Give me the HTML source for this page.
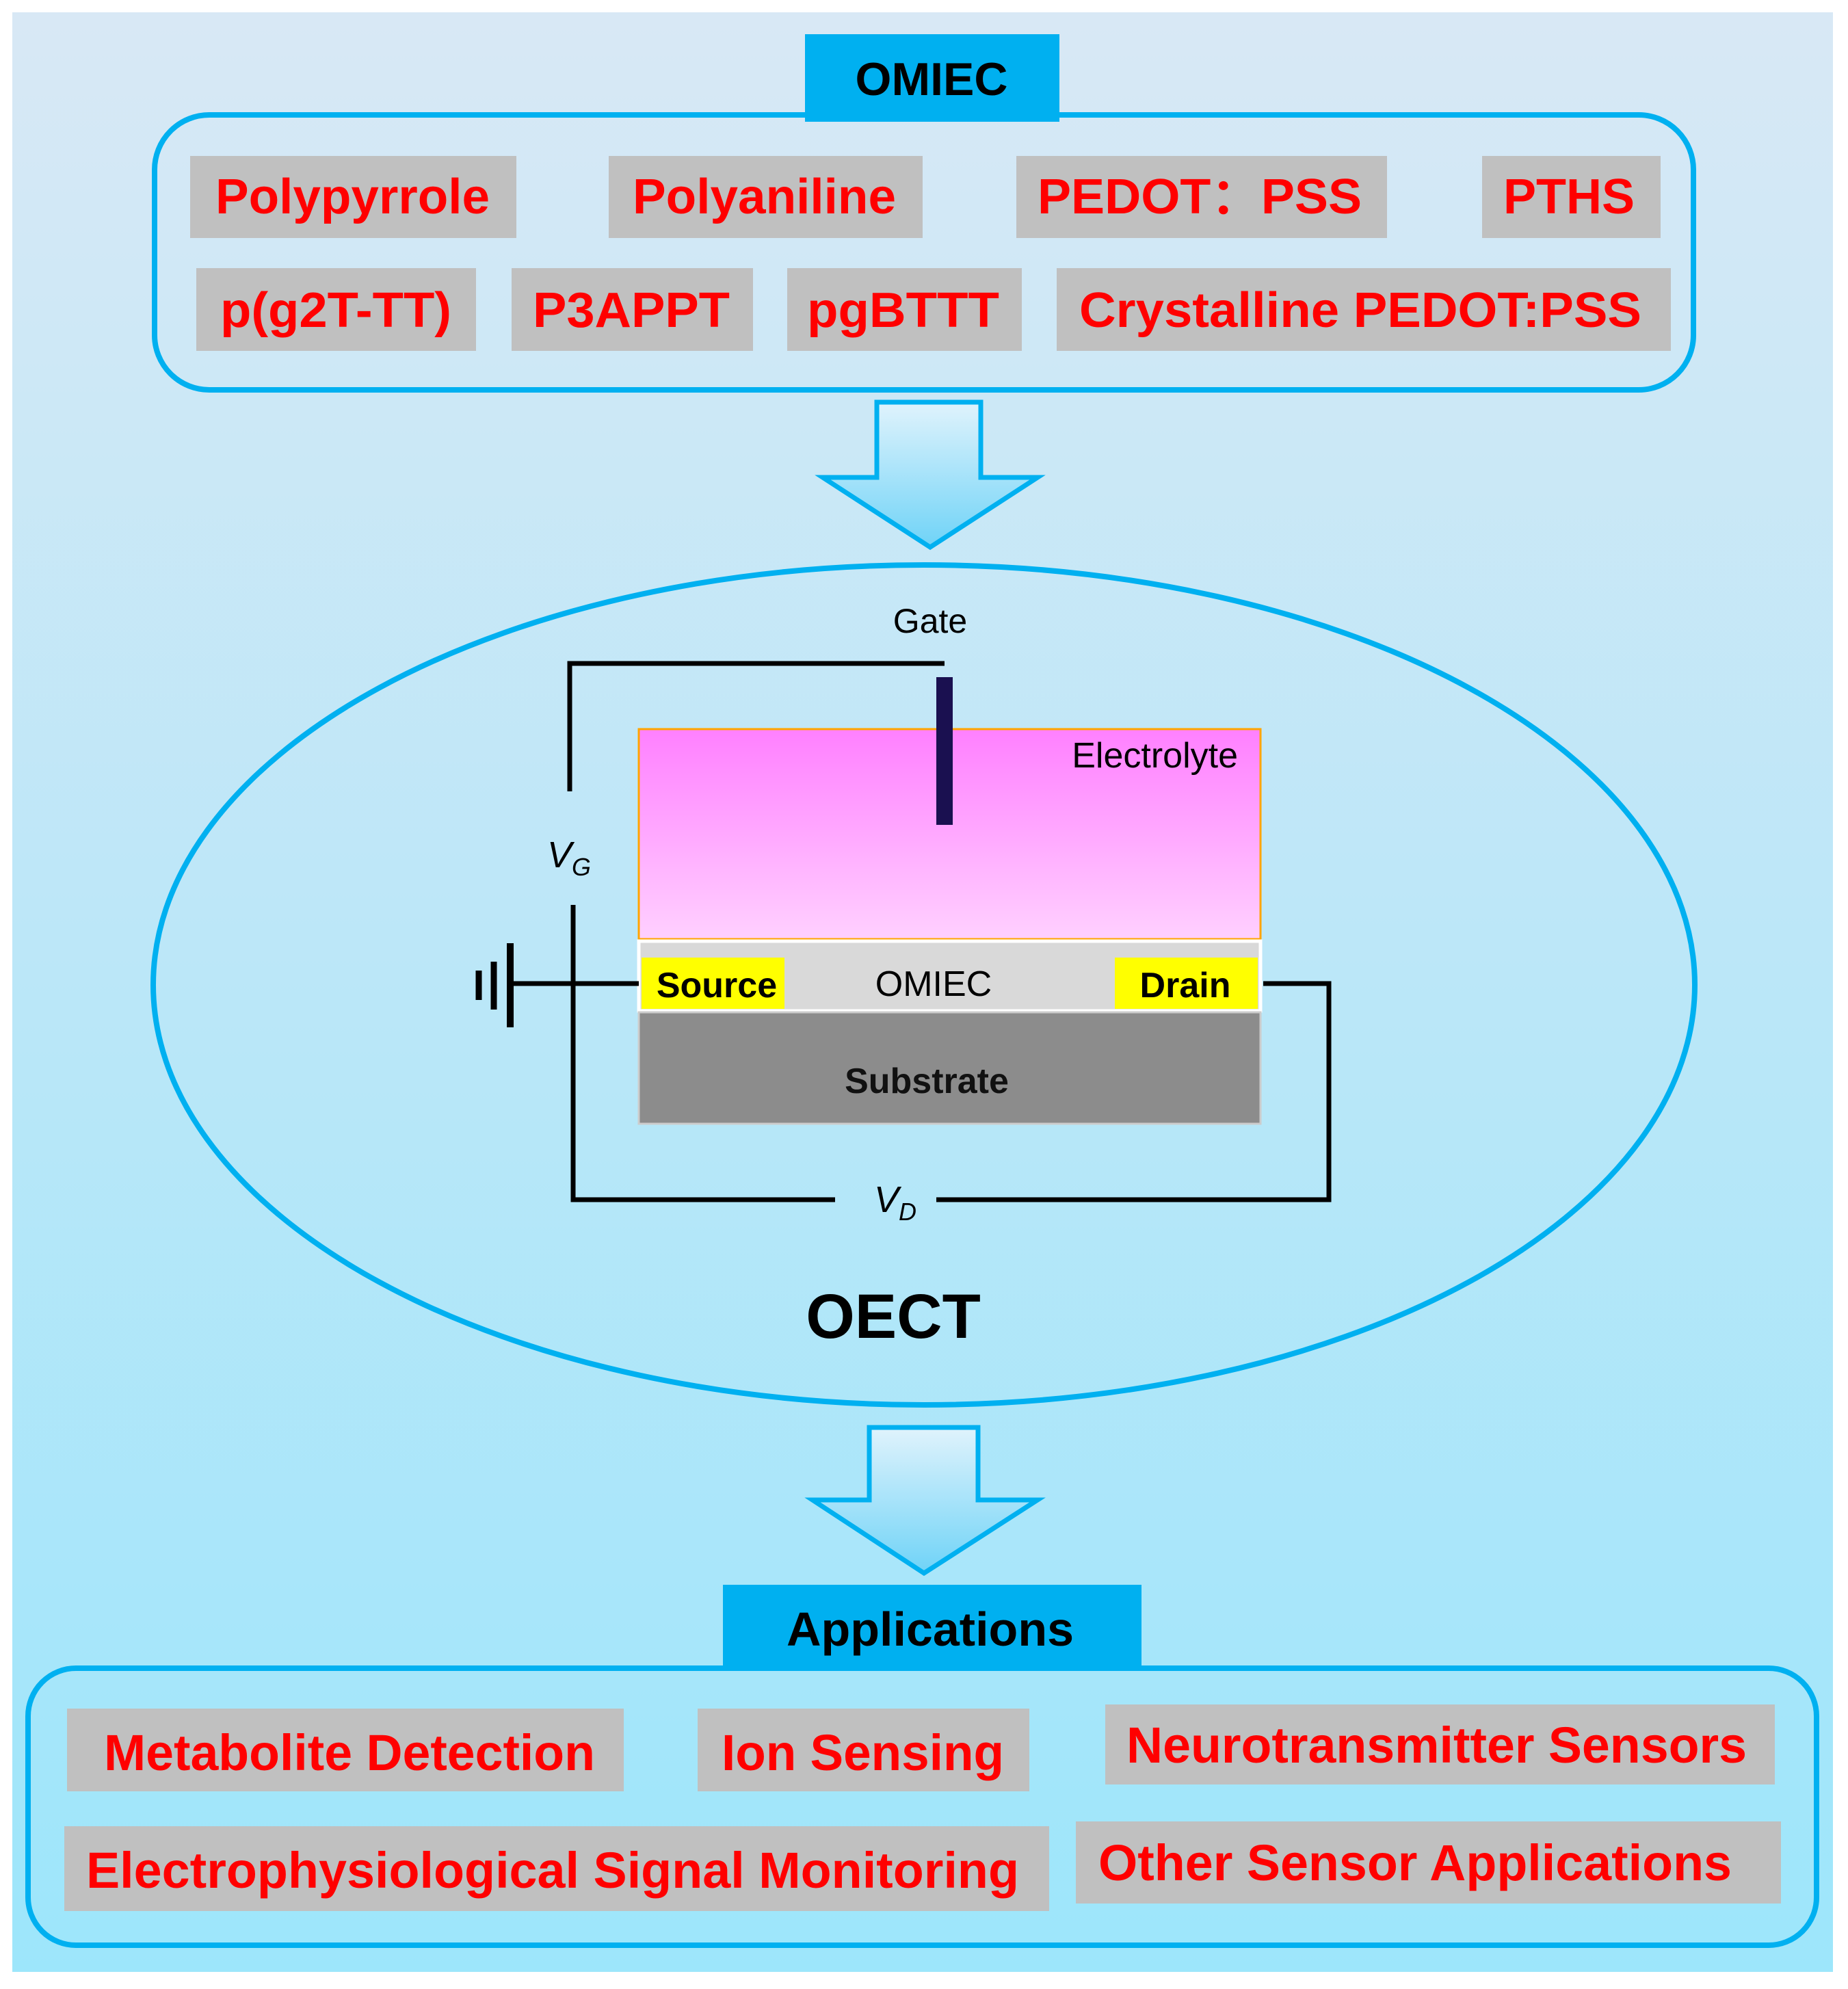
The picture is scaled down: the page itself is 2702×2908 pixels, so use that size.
<!DOCTYPE html>
<html><head><meta charset="utf-8"><style>html,body{margin:0;padding:0;background:#fff}svg{display:block}</style></head>
<body>
<svg width="2702" height="2908" viewBox="0 0 2702 2908" xmlns="http://www.w3.org/2000/svg" font-family="Liberation Sans, Arial, sans-serif">
<defs>
<linearGradient id="bg" x1="0" y1="0" x2="0" y2="1"><stop offset="0" stop-color="#d8e8f5"/><stop offset="1" stop-color="#9de6fb"/></linearGradient>
<linearGradient id="ar" x1="0" y1="0" x2="0" y2="1"><stop offset="0" stop-color="#e0f3fc"/><stop offset="1" stop-color="#6fd3f7"/></linearGradient>
<linearGradient id="el" x1="0" y1="0" x2="0" y2="1"><stop offset="0" stop-color="#ff80ff"/><stop offset="1" stop-color="#ffd0ff"/></linearGradient>
</defs>
<rect x="18" y="18" width="2662" height="2865" fill="url(#bg)"/>

<!-- top box -->
<rect x="226" y="168" width="2250" height="402" rx="80" fill="none" stroke="#00b0f0" stroke-width="8"/>
<rect x="1177" y="50" width="372" height="128" fill="#00b0f0"/>
<text x="1362" y="139" text-anchor="middle" font-size="68" font-weight="bold" fill="#000">OMIEC</text>
<g fill="#c0c0c0">
<rect x="278" y="228" width="477" height="120"/><rect x="890" y="228" width="459" height="120"/>
<rect x="1486" y="228" width="542" height="120"/><rect x="2167" y="228" width="261" height="120"/>
<rect x="287" y="392" width="409" height="121"/><rect x="748" y="392" width="353" height="121"/>
<rect x="1151" y="392" width="343" height="121"/><rect x="1545" y="392" width="898" height="121"/>
</g>
<g fill="#ff0000" font-weight="bold" font-size="72" lengthAdjust="spacingAndGlyphs">
<text x="315" y="312" textLength="401" lengthAdjust="spacingAndGlyphs">Polypyrrole</text>
<text x="925" y="312" textLength="385" lengthAdjust="spacingAndGlyphs">Polyaniline</text>
<text x="1517" y="312" textLength="474" lengthAdjust="spacingAndGlyphs">PEDOT：PSS</text>
<text x="2198" y="312" textLength="192" lengthAdjust="spacingAndGlyphs">PTHS</text>
<text x="322" y="478" textLength="338" lengthAdjust="spacingAndGlyphs">p(g2T-TT)</text>
<text x="779" y="478" textLength="288" lengthAdjust="spacingAndGlyphs">P3APPT</text>
<text x="1180" y="478" textLength="281" lengthAdjust="spacingAndGlyphs">pgBTTT</text>
<text x="1578" y="478" textLength="822" lengthAdjust="spacingAndGlyphs">Crystalline PEDOT:PSS</text>
</g>

<!-- arrow 1 -->
<polygon points="1282,588 1434,588 1434,698 1517,698 1360,800 1203,698 1282,698" fill="url(#ar)" stroke="#00b0f0" stroke-width="7" stroke-linejoin="miter"/>

<!-- ellipse -->
<ellipse cx="1351" cy="1440" rx="1127" ry="614" fill="none" stroke="#00b0f0" stroke-width="8"/>

<text x="1360" y="925" text-anchor="middle" font-size="50" fill="#000">Gate</text>
<!-- device -->
<rect x="934" y="1066" width="909" height="307" fill="url(#el)" stroke="#ffa500" stroke-width="3"/>
<text x="1810" y="1122" text-anchor="end" font-size="52" fill="#000">Electrolyte</text>
<rect x="934" y="1376" width="909" height="102" fill="#d9d9d9" stroke="#fff" stroke-width="5"/>
<rect x="938" y="1400" width="209" height="75" fill="#ffff00"/>
<rect x="1630" y="1400" width="209" height="75" fill="#ffff00"/>
<text x="1048" y="1458" text-anchor="middle" font-size="52" font-weight="bold" fill="#000">Source</text>
<text x="1365" y="1456" text-anchor="middle" font-size="52" fill="#000">OMIEC</text>
<text x="1733" y="1458" text-anchor="middle" font-size="52" font-weight="bold" fill="#000">Drain</text>
<rect x="934" y="1480" width="909" height="163" fill="#8c8c8c" stroke="#ccc" stroke-width="3"/>
<text x="1355" y="1598" text-anchor="middle" font-size="52" font-weight="bold" fill="#111">Substrate</text>

<!-- wires -->
<g fill="none" stroke="#000" stroke-width="7">
<polyline points="833,1157 833,970 1381,970"/>
<polyline points="838,1323 838,1754 1221,1754"/>
<polyline points="1369,1754 1943,1754 1943,1438 1847,1438"/>
<line x1="746" y1="1438" x2="934" y2="1438"/>
<line x1="746" y1="1379" x2="746" y2="1502" stroke-width="10"/>
<line x1="722" y1="1406" x2="722" y2="1476" stroke-width="9"/>
<line x1="700" y1="1419" x2="700" y2="1462" stroke-width="9"/>
</g>
<rect x="1369" y="990" width="24" height="216" fill="#1a1050"/>
<text x="800" y="1268" font-size="54" font-style="italic" fill="#000">V<tspan font-size="36" dy="12">G</tspan></text>
<text x="1278" y="1772" font-size="54" font-style="italic" fill="#000">V<tspan font-size="36" dy="12">D</tspan></text>

<text x="1306" y="1956" text-anchor="middle" font-size="92" font-weight="bold" fill="#000">OECT</text>

<!-- arrow 2 -->
<polygon points="1271,2087 1430,2087 1430,2193 1517,2193 1351,2300 1188,2193 1271,2193" fill="url(#ar)" stroke="#00b0f0" stroke-width="7"/>

<!-- bottom box -->
<rect x="41" y="2439" width="2615" height="405" rx="70" fill="none" stroke="#00b0f0" stroke-width="8"/>
<rect x="1057" y="2317" width="612" height="124" fill="#00b0f0"/>
<text x="1360" y="2406" text-anchor="middle" font-size="70" font-weight="bold" fill="#000">Applications</text>
<g fill="#c0c0c0">
<rect x="98" y="2498" width="814" height="121"/><rect x="1020" y="2498" width="485" height="121"/>
<rect x="1616" y="2492" width="979" height="117"/><rect x="94" y="2670" width="1440" height="124"/>
<rect x="1573" y="2663" width="1031" height="120"/>
</g>
<g fill="#ff0000" font-weight="bold" font-size="74">
<text x="152" y="2588" textLength="718" lengthAdjust="spacingAndGlyphs">Metabolite Detection</text>
<text x="1055" y="2588" textLength="413" lengthAdjust="spacingAndGlyphs">Ion Sensing</text>
<text x="1647" y="2577" textLength="907" lengthAdjust="spacingAndGlyphs">Neurotransmitter Sensors</text>
<text x="126" y="2760" textLength="1364" lengthAdjust="spacingAndGlyphs">Electrophysiological Signal Monitoring</text>
<text x="1606" y="2749" textLength="926" lengthAdjust="spacingAndGlyphs">Other Sensor Applications</text>
</g>
</svg>
</body></html>
